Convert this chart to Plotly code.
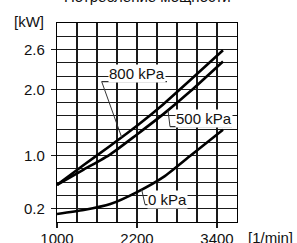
import plotly.graph_objects as go
import numpy as np

# --- data ---
rpm = [1000, 1400, 1800, 2200, 2600, 3000, 3490]
p800 = [0.56, 0.86, 1.15, 1.45, 1.78, 2.14, 2.59]
p500 = [0.56, 0.79, 1.02, 1.32, 1.63, 1.97, 2.42]
p0 = [0.12, 0.18, 0.27, 0.45, 0.68, 1.00, 1.39]
series_names = ["800 kPa", "500 kPa", "0 kPa"]
x_tickvals = [1000, 2200, 3400]
y_tickvals = [0.2, 1.0, 2.0, 2.6]
y_ticktext = ["0.2", "1.0", "2.0", "2.6"]
title_text = "Потребление мощности"
y_unit = "[kW]"
x_unit = "[1/min]"

FONT = "Liberation Sans, Arial, sans-serif"
fig = go.Figure()
for vals, name in zip([p800, p500, p0], series_names):
    fig.add_trace(go.Scatter(x=rpm, y=vals, mode="lines", name=name,
                             line=dict(color="black", width=2.6, shape="spline", smoothing=0.6),
                             showlegend=False, hoverinfo="skip"))

grid_col = "#1a1a1a"
fig.update_xaxes(range=[1000, 3700], tickvals=x_tickvals, ticktext=[str(v) for v in x_tickvals],
                 ticks="outside", ticklen=5, tickcolor=grid_col, tickwidth=1.2,
                 showgrid=True, gridcolor=grid_col, gridwidth=1.1,
                 minor=dict(tick0=1000, dtick=300, showgrid=True, gridcolor=grid_col, gridwidth=1.1),
                 showline=True, linecolor="black", linewidth=1.2, mirror=True, automargin=False,
                 ticklabelstandoff=-2,
                 zeroline=False, tickfont=dict(size=15, color="#111", family=FONT))
fig.update_yaxes(range=[0, 3.0], tickvals=y_tickvals, ticktext=y_ticktext,
                 ticks="outside", ticklen=5, tickcolor=grid_col, tickwidth=1.2,
                 showgrid=True, gridcolor=grid_col, gridwidth=1.1,
                 minor=dict(tick0=0, dtick=0.2, showgrid=True, gridcolor=grid_col, gridwidth=1.1),
                 showline=True, linecolor="black", linewidth=1.2, mirror=True, automargin=False,
                 ticklabelstandoff=3,
                 zeroline=False, tickfont=dict(size=15, color="#111", family=FONT))

# labels with underline and leader
labels = [
    # name, text_x, text_y, underline x0, x1, y, leader curve x, series
    ("800 kPa", 1765, 2.233, 1670, 2650, 2.117, 1970, p800),
    ("500 kPa", 2770, 1.564, 2695, 3625, 1.437, 2665, p500),
    ("0 kPa", 2345, 0.339, 2320, 2950, 0.263, 2270, p0),
]
for name, tx, ty, ux0, ux1, uy, lx, ser in labels:
    fig.add_annotation(x=tx, y=ty, text=name, showarrow=False, xanchor="left", yanchor="middle",
                       font=dict(size=15, color="#111", family=FONT), bgcolor="rgba(255,255,255,1)",
                       borderpad=0)
    fig.add_shape(type="line", x0=ux0, x1=ux1, y0=uy, y1=uy, line=dict(color="#333", width=1.2))
    ly = float(np.interp(lx, rpm, ser))
    fig.add_shape(type="line", x0=ux0, y0=uy, x1=lx, y1=ly, line=dict(color="#333", width=1))

fig.add_annotation(xref="paper", yref="paper", x=0.5, y=1.082, text=title_text, showarrow=False,
                   xanchor="center", yanchor="bottom", font=dict(size=15, color="#111", family=FONT))
fig.add_annotation(xref="paper", yref="paper", x=-0.156, y=1.01, text=y_unit, showarrow=False,
                   xanchor="center", yanchor="middle", font=dict(size=15, color="#111", family=FONT))
fig.add_annotation(xref="paper", yref="paper", x=1.186, y=-0.077, text=x_unit, showarrow=False,
                   xanchor="center", yanchor="middle", font=dict(size=15, color="#111", family=FONT))

fig.update_layout(width=297, height=243, autosize=False,
                  margin=dict(l=57, r=60, t=23, b=21, pad=0),
                  plot_bgcolor="white", paper_bgcolor="white", hovermode=False)
fig.write_html("out.html", config={"displayModeBar": False, "staticPlot": True},
               post_script="document.body.style.margin='0';document.body.style.overflow='hidden';")
